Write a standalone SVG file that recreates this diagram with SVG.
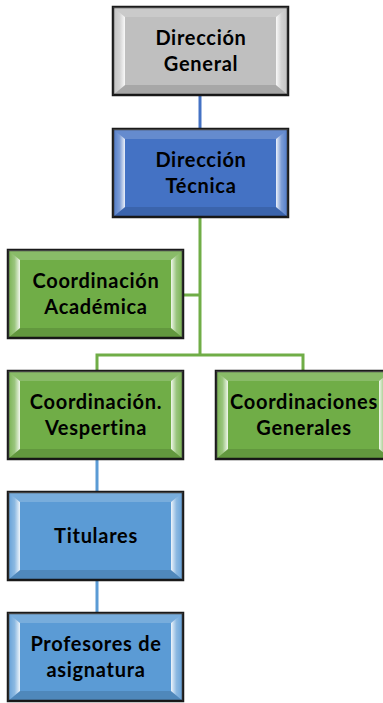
<svg xmlns="http://www.w3.org/2000/svg" width="383" height="703" viewBox="0 0 383 703">
<defs>
<linearGradient id="gl" x1="0" y1="0" x2="1" y2="0"><stop offset="0" stop-color="#fff" stop-opacity="0.05"/><stop offset="0.55" stop-color="#fff" stop-opacity="0.3"/><stop offset="1" stop-color="#fff" stop-opacity="0.9"/></linearGradient>
<linearGradient id="gr" x1="1" y1="0" x2="0" y2="0"><stop offset="0" stop-color="#fff" stop-opacity="0.05"/><stop offset="0.55" stop-color="#fff" stop-opacity="0.3"/><stop offset="1" stop-color="#fff" stop-opacity="0.9"/></linearGradient>
<g id="bevel">
<polygon points="0,0 175,0 163,10 12,10" fill="#fff" fill-opacity="0.18"/>
<polygon points="0,88 175,88 163,78 12,78" fill="#000" fill-opacity="0.12"/>
<polygon points="0,0 12,10 12,78 0,88" fill="url(#gl)"/>
<polygon points="175,0 163,10 163,78 175,88" fill="url(#gr)"/>
</g>
</defs>
<style>
.box{stroke:#1a1a1a;stroke-width:2.5}
.t{font-family:Lato,"Open Sans",sans-serif;font-weight:bold;font-size:20px;letter-spacing:0.7px;fill:#000;text-anchor:middle}
.c{fill:none;stroke-width:3}
</style>
<g id="connectors">
<path class="c" stroke="#4472C4" d="M200,95V128"/>
<path class="c" stroke="#70AD47" d="M200,217V355M183,295H200M97,371V355H303V371"/>
<path class="c" stroke="#5B9BD5" d="M97,459V492M97,580V613"/>
</g>
<g id="n1" transform="translate(113,7)"><rect class="box" width="175" height="88" fill="#BFBFBF"/><use href="#bevel"/><text class="t" x="88" y="37.5">Dirección</text><text class="t" x="88" y="63.5">General</text></g>
<g id="n2" transform="translate(113,129)"><rect class="box" width="175" height="88" fill="#4472C4"/><use href="#bevel"/><text class="t" x="88" y="37.5">Dirección</text><text class="t" x="88" y="63.5">Técnica</text></g>
<g id="n3" transform="translate(8,250)"><rect class="box" width="175" height="88" fill="#70AD47"/><use href="#bevel"/><text class="t" x="88" y="37.5">Coordinación</text><text class="t" x="88" y="63.5">Académica</text></g>
<g id="n4" transform="translate(8,371)"><rect class="box" width="175" height="88" fill="#70AD47"/><use href="#bevel"/><text class="t" x="88" y="37.5">Coordinación.</text><text class="t" x="88" y="63.5">Vespertina</text></g>
<g id="n5" transform="translate(216,371)"><rect class="box" width="175" height="88" fill="#70AD47"/><use href="#bevel"/><text class="t" x="88" y="37.5">Coordinaciones</text><text class="t" x="88" y="63.5">Generales</text></g>
<g id="n6" transform="translate(8,492)"><rect class="box" width="175" height="88" fill="#5B9BD5"/><use href="#bevel"/><text class="t" x="88" y="51">Titulares</text></g>
<g id="n7" transform="translate(8,613)"><rect class="box" width="175" height="88" fill="#5B9BD5"/><use href="#bevel"/><text class="t" x="88" y="37.5">Profesores de</text><text class="t" x="88" y="63.5">asignatura</text></g>
</svg>
